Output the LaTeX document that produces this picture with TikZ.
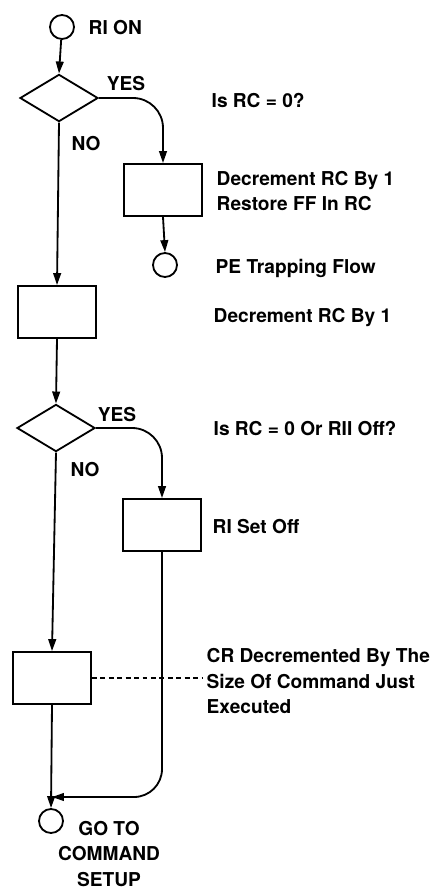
\documentclass[tikz,border=0pt]{standalone}
\usepackage{fontspec}
\setmainfont{TeX Gyre Heros}
\usetikzlibrary{arrows.meta,positioning,shapes.geometric}

\begin{document}
\begin{tikzpicture}[>={Triangle[length=8.5pt,width=5.5pt]},x=0.025cm,y=-0.025cm,
  line width=1.3pt,
  term/.style={draw,circle,minimum size=0.6cm,inner sep=0pt},
  proc/.style={draw,rectangle,minimum width=1.95cm,minimum height=1.3cm,inner sep=0pt},
  dec/.style={draw,diamond,minimum width=1.95cm,minimum height=1.18cm,inner sep=0pt},
  lbl/.style={font=\fontsize{13.6}{17.8}\selectfont\bfseries,align=left,inner sep=2pt}]
\useasboundingbox (0,0) rectangle (437,888);
% flow boxes
\node[term] (start) at (62,27) {};
\node[dec] (chk1) at (59,98) {};
\node[proc] (box1) at (163,190) {};
\node[term] (pe) at (165,265) {};
\node[proc] (box2) at (57,312) {};
\node[dec] (chk2) at (56,428) {};
\node[proc] (box3) at (162,525) {};
\node[proc] (box4) at (52,678) {};
\node[term] (stop) at (51,821) {};
\coordinate (join) at (52,797);
% labels
\node[lbl,anchor=west] at (85,28) {RI ON};
\node[lbl] at (126,84) {YES};
\node[lbl] at (86,144) {NO};
\node[lbl] at (117,415) {YES};
\node[lbl] at (85,470) {NO};
\node[lbl,anchor=west] at (208,100) {Is RC = 0?};
\node[lbl,anchor=west] at (213,191) {Decrement RC By 1\\Restore FF In RC};
\node[lbl,anchor=west] at (212,268) {PE Trapping Flow};
\node[lbl,anchor=west] at (210,318) {Decrement RC By 1};
\node[lbl,anchor=west] at (210,428) {Is RC = 0 Or RII Off?};
\node[lbl,anchor=west] at (209,527) {RI Set Off};
\node[lbl,anchor=west] (crtext) at (203,681) {CR Decremented By The\\Size Of Command Just\\Executed};
\node[lbl,align=center] at (109,854) {GO TO\\COMMAND\\SETUP};
% connectors
\draw[->] (start) -- (chk1.north);
\draw[->] (chk1.south) -- (box2.north);
\draw[->,rounded corners=0.75cm] (chk1.east) -| (box1.north);
\draw[->] (box1.south) -- (pe.north);
\draw[->] (box2.south) -- (chk2.north);
\draw[->] (chk2.south) -- (box4.north);
\draw[->,rounded corners=0.75cm] (chk2.east) -| (box3.north);
\draw[->] (box4.south) -- (stop.north);
\draw[->,rounded corners=0.7cm] (box3.south) |- (join);
\draw[dashed,dash pattern=on 3.5pt off 2.5pt,line width=1pt] (box4.east) -- (box4.east -| crtext.west);
\end{tikzpicture}
\end{document}
